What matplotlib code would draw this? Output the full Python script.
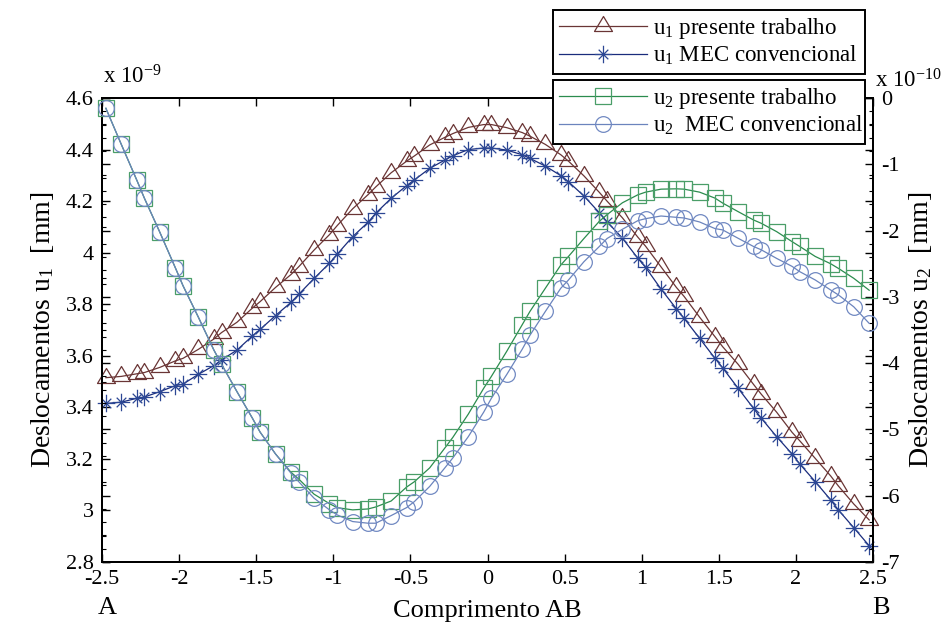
import matplotlib
matplotlib.use("Agg")
import matplotlib.pyplot as plt
from matplotlib.path import Path
from matplotlib.ticker import MultipleLocator, FormatStrFormatter

plt.rcParams['font.family'] = ['Liberation Serif', 'DejaVu Serif']
plt.rcParams['mathtext.fontset'] = 'custom'
plt.rcParams['mathtext.rm'] = 'Liberation Serif'
plt.rcParams['mathtext.it'] = 'Liberation Serif:italic'
plt.rcParams['axes.unicode_minus'] = False

# ---------------- data ----------------
x_nodes = [-2.475, -2.375, -2.275, -2.225, -2.125, -2.025, -1.975, -1.875, -1.775, -1.725,
           -1.625, -1.525, -1.475, -1.375, -1.275, -1.225, -1.125, -1.025, -0.975, -0.875,
           -0.775, -0.725, -0.625, -0.525, -0.475, -0.375, -0.275, -0.225, -0.125, -0.025,
           0.025, 0.125, 0.225, 0.275, 0.375, 0.475, 0.525, 0.625, 0.725, 0.775,
           0.875, 0.975, 1.025, 1.125, 1.225, 1.275, 1.375, 1.475, 1.525, 1.625,
           1.725, 1.775, 1.875, 1.975, 2.025, 2.125, 2.225, 2.275, 2.375, 2.475]

# u1 (x 1e-9 mm)
u1_presente = [3.515, 3.520, 3.530, 3.535, 3.555, 3.580, 3.590, 3.625, 3.665, 3.690,
               3.730, 3.785, 3.810, 3.865, 3.915, 3.945, 4.010, 4.070, 4.105, 4.170,
               4.225, 4.255, 4.310, 4.355, 4.375, 4.418, 4.448, 4.462, 4.486, 4.497,
               4.497, 4.485, 4.466, 4.452, 4.420, 4.380, 4.355, 4.298, 4.234, 4.200,
               4.135, 4.060, 4.025, 3.945, 3.865, 3.830, 3.750, 3.674, 3.635, 3.567,
               3.489, 3.451, 3.381, 3.303, 3.270, 3.202, 3.134, 3.095, 3.025, 2.963]

u1_mec = [3.415, 3.420, 3.435, 3.440, 3.461, 3.484, 3.490, 3.528, 3.562, 3.584,
          3.622, 3.677, 3.702, 3.756, 3.807, 3.838, 3.900, 3.959, 3.994, 4.062,
          4.118, 4.153, 4.211, 4.260, 4.282, 4.327, 4.360, 4.376, 4.400, 4.406,
          4.406, 4.398, 4.380, 4.366, 4.336, 4.299, 4.275, 4.220, 4.155, 4.120,
          4.056, 3.978, 3.943, 3.859, 3.782, 3.745, 3.668, 3.590, 3.553, 3.474,
          3.396, 3.358, 3.286, 3.219, 3.180, 3.112, 3.041, 3.002, 2.933, 2.863]

# u2 (x 1e-10 mm)
u2_presente = [-0.155, -0.700, -1.237, -1.513, -2.026, -2.559, -2.831, -3.308, -3.801, -4.017,
               -4.430, -4.830, -5.040, -5.370, -5.646, -5.747, -5.977, -6.120, -6.180, -6.214,
               -6.200, -6.170, -6.080, -5.870, -5.790, -5.580, -5.275, -5.120, -4.770, -4.380,
               -4.200, -3.820, -3.420, -3.220, -2.870, -2.520, -2.390, -2.120, -1.860, -1.760,
               -1.580, -1.460, -1.420, -1.375, -1.370, -1.375, -1.420, -1.510, -1.585, -1.714,
               -1.840, -1.890, -2.016, -2.167, -2.240, -2.390, -2.500, -2.570, -2.720, -2.900]

u2_mec = [-0.155, -0.700, -1.237, -1.513, -2.026, -2.559, -2.831, -3.308, -3.801, -4.017,
          -4.430, -4.830, -5.040, -5.370, -5.660, -5.787, -6.038, -6.214, -6.290, -6.390,
          -6.415, -6.415, -6.300, -6.180, -6.090, -5.860, -5.575, -5.430, -5.110, -4.740,
          -4.530, -4.170, -3.790, -3.580, -3.220, -2.870, -2.745, -2.470, -2.240, -2.120,
          -1.980, -1.850, -1.820, -1.780, -1.800, -1.810, -1.870, -1.970, -1.990, -2.116,
          -2.240, -2.290, -2.420, -2.540, -2.620, -2.745, -2.896, -2.970, -3.150, -3.400]

x_ticks = [-2.5, -2, -1.5, -1, -0.5, 0, 0.5, 1, 1.5, 2, 2.5]
labels = ['u$_1$ presente trabalho', 'u$_1$ MEC convencional',
          'u$_2$ presente trabalho', 'u$_2$  MEC convencional']

# ---------------- markers ----------------
tri = Path([(0, 0.667), (-0.6, -0.333), (0.6, -0.333), (0, 0.667)],
           [Path.MOVETO, Path.LINETO, Path.LINETO, Path.CLOSEPOLY])
d = 0.55
ast = Path([(-1, 0), (1, 0), (0, -1), (0, 1), (-d, -d), (d, d), (-d, d), (d, -d)],
           [Path.MOVETO, Path.LINETO] * 4)

c_brown = '#6a3535'
c_navy_line = '#1a2c7c'
c_navy_mk = '#2c4794'
c_green_line = '#2b8c4e'
c_green_mk = '#4a9e68'
c_lblue_line = '#6b84bd'
c_lblue_mk = '#7189c2'

fig = plt.figure(figsize=(9.43, 6.32), dpi=100)
ax1 = fig.add_axes([0.1082, 0.1108, 0.8176, 0.7341])
ax2 = ax1.twinx()

l1, = ax1.plot(x_nodes, u1_presente, color=c_brown, lw=0.9, marker=tri, ms=14.4,
               mfc='none', mec=c_brown, mew=0.9, clip_on=False, zorder=3)
l2, = ax1.plot(x_nodes, u1_mec, color=c_navy_line, lw=0.9, marker=ast, ms=12.6,
               mfc='none', mec=c_navy_mk, mew=0.9, clip_on=False, zorder=3)
l3, = ax2.plot(x_nodes, u2_presente, color=c_green_line, lw=0.9, marker='s', ms=11.3,
               mfc='none', mec=c_green_mk, mew=0.9, clip_on=False, zorder=3)
l4, = ax2.plot(x_nodes, u2_mec, color=c_lblue_line, lw=0.9, marker='o', ms=11.3,
               mfc='none', mec=c_lblue_mk, mew=0.9, clip_on=False, zorder=3)

ax1.set_xlim(-2.5, 2.5)
ax1.set_ylim(2.8, 4.6)
ax2.set_ylim(-7, 0)

ax1.set_xticks(x_ticks)
ax1.xaxis.set_major_formatter(FormatStrFormatter('%g'))
ax1.yaxis.set_major_locator(MultipleLocator(0.2))
ax1.yaxis.set_minor_locator(MultipleLocator(0.1))
ax1.yaxis.set_major_formatter(FormatStrFormatter('%g'))
ax2.yaxis.set_major_locator(MultipleLocator(1))
ax2.yaxis.set_minor_locator(MultipleLocator(0.2))
ax2.yaxis.set_major_formatter(FormatStrFormatter('%g'))

for ax in (ax1, ax2):
    ax.tick_params(which='major', direction='in', length=6, width=1.0, labelsize=16)
    ax.tick_params(which='minor', direction='in', length=3, width=0.8)
    for sp in ax.spines.values():
        sp.set_linewidth(1.4)
ax1.tick_params(axis='x', which='both', top=True, bottom=True, pad=6)
ax1.tick_params(axis='y', which='both', left=True, right=True, labelright=False, pad=6)
ax2.tick_params(axis='y', which='both', left=True, right=True, labelleft=False, pad=6)

ax1.set_xlabel('Comprimento AB', fontsize=19, labelpad=8)
ax1.set_ylabel('Deslocamentos u$_1$  [mm]', fontsize=20, labelpad=7)
ax2.set_ylabel('Deslocamentos u$_2$  [mm]', fontsize=20, labelpad=5)

fig.text(103 / 943, 1 - 83 / 632, 'x 10$^{-9}$', fontsize=16.5, ha='left', va='baseline')
fig.text(875 / 943, 1 - 87 / 632, 'x 10$^{-10}$', fontsize=16.5, ha='left', va='baseline')
fig.text(98 / 943, 1 - 614 / 632, 'A', fontsize=19, ha='left', va='baseline')
fig.text(872 / 943, 1 - 614 / 632, 'B', fontsize=19, ha='left', va='baseline')

leg_kw = dict(loc='upper left', mode='expand', borderaxespad=0, fontsize=16.5,
              fancybox=False, framealpha=1, edgecolor='black', handlelength=3.8,
              handletextpad=0.3, borderpad=0.28, labelspacing=0.12,
              bbox_transform=fig.transFigure)
leg1 = ax2.legend([l1, l2], labels[:2],
                  bbox_to_anchor=(553 / 943, 1 - 10 / 632 - 0.1, 312 / 943, 0.1), **leg_kw)
leg1.get_frame().set_linewidth(1.4)
ax2.add_artist(leg1)
leg2 = ax2.legend([l3, l4], labels[2:],
                  bbox_to_anchor=(553 / 943, 1 - 80 / 632 - 0.1, 312 / 943, 0.1), **leg_kw)
leg2.get_frame().set_linewidth(1.4)

fig.savefig('out.png', dpi=100)
